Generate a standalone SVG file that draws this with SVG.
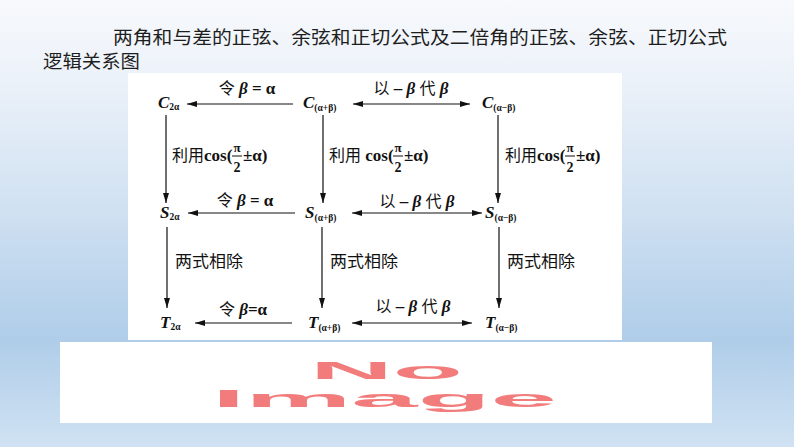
<svg xmlns="http://www.w3.org/2000/svg" width="794" height="447" viewBox="0 0 794 447">
<style>
.title{font-family:"Noto Sans CJK SC","Liberation Serif",sans-serif;font-size:18.5px;fill:#1e1e1e}
.n{font-family:"Liberation Serif",serif;font-weight:bold;font-style:italic;font-size:17px;fill:#111}
.sub{font-size:9.5px;font-style:normal}
.m{font-family:"Liberation Serif","Noto Sans CJK SC",serif;font-weight:bold;font-size:17px;fill:#111}
.h{font-size:17px}
.cj{font-family:"Noto Sans CJK SC",sans-serif;font-weight:normal;font-size:16px;fill:#111}
.cjh{font-family:"Noto Sans CJK SC",sans-serif;font-weight:normal;font-size:16px;fill:#111}
.it{font-style:italic}
.pi{font-size:13px}
.two{font-size:14px}
.ni{font-family:"Liberation Sans",sans-serif;font-weight:bold;font-size:24px;fill:#f27c7c}
.ln{stroke:#111;stroke-width:1.2;fill:none}
.bar{stroke:#111;stroke-width:1}
</style>
<defs>
<linearGradient id="bg" x1="0" y1="0" x2="0" y2="1">
<stop offset="0" stop-color="#f7f9fc"/>
<stop offset="0.15" stop-color="#eef3fa"/>
<stop offset="0.45" stop-color="#d2e2f2"/>
<stop offset="0.76" stop-color="#afcde9"/>
<stop offset="1" stop-color="#d0e2f3"/>
</linearGradient>
<marker id="ah" viewBox="0 0 10 6" refX="10" refY="3" markerWidth="10" markerHeight="6" markerUnits="userSpaceOnUse" orient="auto-start-reverse">
<path d="M0,0 L10,3 L0,6 Z" fill="#111"/>
</marker>
</defs>
<rect width="794" height="447" fill="url(#bg)"/>
<text class="title" x="113" y="44" textLength="614" lengthAdjust="spacingAndGlyphs">两角和与差的正弦、余弦和正切公式及二倍角的正弦、余弦、正切公式</text>
<text class="title" x="43" y="68" textLength="97" lengthAdjust="spacingAndGlyphs">逻辑关系图</text>
<rect x="128" y="73" width="494" height="267" fill="#fff"/>
<g id="connectors">
<line class="ln" x1="293" y1="104" x2="187" y2="104" marker-end="url(#ah)"/>
<line class="ln" x1="353" y1="104" x2="470" y2="104" marker-start="url(#ah)" marker-end="url(#ah)"/>
<line class="ln" x1="295" y1="213" x2="188" y2="213" marker-end="url(#ah)"/>
<line class="ln" x1="352" y1="213" x2="482" y2="213" marker-start="url(#ah)" marker-end="url(#ah)"/>
<line class="ln" x1="292" y1="323" x2="195" y2="323" marker-end="url(#ah)"/>
<line class="ln" x1="352" y1="323" x2="472" y2="323" marker-start="url(#ah)" marker-end="url(#ah)"/>
<line class="ln" x1="166" y1="115" x2="166" y2="203" marker-end="url(#ah)"/>
<line class="ln" x1="323" y1="115" x2="323" y2="203" marker-end="url(#ah)"/>
<line class="ln" x1="498" y1="115" x2="498" y2="203" marker-end="url(#ah)"/>
<line class="ln" x1="167" y1="227" x2="167" y2="308" marker-end="url(#ah)"/>
<line class="ln" x1="322" y1="227" x2="322" y2="308" marker-end="url(#ah)"/>
<line class="ln" x1="499" y1="227" x2="499" y2="308" marker-end="url(#ah)"/>
<text class="m h" x="247" y="94" text-anchor="middle"><tspan class="cjh">令</tspan> <tspan class="it">β</tspan> = α</text>
<text class="m h" x="411" y="94" text-anchor="middle"><tspan class="cjh">以</tspan> – <tspan class="it">β</tspan> <tspan class="cjh">代</tspan> <tspan class="it">β</tspan></text>
<text class="m h" x="245" y="206" text-anchor="middle"><tspan class="cjh">令</tspan> <tspan class="it">β</tspan> = α</text>
<text class="m h" x="417" y="207" text-anchor="middle"><tspan class="cjh">以</tspan> – <tspan class="it">β</tspan> <tspan class="cjh">代</tspan> <tspan class="it">β</tspan></text>
<text class="m h" x="243" y="315" text-anchor="middle"><tspan class="cjh">令</tspan> <tspan class="it">β</tspan>=α</text>
<text class="m h" x="413" y="312" text-anchor="middle"><tspan class="cjh">以</tspan> – <tspan class="it">β</tspan> <tspan class="cjh">代</tspan> <tspan class="it">β</tspan></text>
<g id="lbl-cos1">
<text class="m" x="172" y="161"><tspan class="cj">利用</tspan>cos(</text>
<text class="m pi" x="237" y="151.5" text-anchor="middle">π</text>
<line class="bar" x1="232" y1="156" x2="242" y2="156"/>
<text class="m two" x="237" y="172" text-anchor="middle">2</text>
<text class="m" x="243" y="161">±α)</text>
</g>
<g id="lbl-cos2">
<text class="m" x="329" y="161"><tspan class="cj">利用</tspan> cos(</text>
<text class="m pi" x="398" y="151.5" text-anchor="middle">π</text>
<line class="bar" x1="393" y1="156" x2="403" y2="156"/>
<text class="m two" x="398" y="172" text-anchor="middle">2</text>
<text class="m" x="404" y="161">±α)</text>
</g>
<g id="lbl-cos3">
<text class="m" x="505" y="161"><tspan class="cj">利用</tspan>cos(</text>
<text class="m pi" x="570" y="151.5" text-anchor="middle">π</text>
<line class="bar" x1="565" y1="156" x2="575" y2="156"/>
<text class="m two" x="570" y="172" text-anchor="middle">2</text>
<text class="m" x="576" y="161">±α)</text>
</g>
<text class="cj" x="175" y="267" font-size="16" textLength="68" lengthAdjust="spacingAndGlyphs">两式相除</text>
<text class="cj" x="330" y="267" font-size="16" textLength="68" lengthAdjust="spacingAndGlyphs">两式相除</text>
<text class="cj" x="507" y="267" font-size="16" textLength="68" lengthAdjust="spacingAndGlyphs">两式相除</text>
</g>
<g id="C2a"><text class="n" x="158" y="108">C<tspan class="sub" dy="2">2α</tspan></text></g>
<g id="Cab"><text class="n" x="303" y="108">C<tspan class="sub" dy="3">(α+β)</tspan></text></g>
<g id="Camb"><text class="n" x="482" y="108">C<tspan class="sub" dy="3">(α−β)</tspan></text></g>
<g id="S2a"><text class="n" x="160" y="218">S<tspan class="sub" dy="2">2α</tspan></text></g>
<g id="Sab"><text class="n" x="305" y="218">S<tspan class="sub" dy="3">(α+β)</tspan></text></g>
<g id="Samb"><text class="n" x="485" y="218">S<tspan class="sub" dy="3">(α−β)</tspan></text></g>
<g id="T2a"><text class="n" x="160" y="328">T<tspan class="sub" dy="2">2α</tspan></text></g>
<g id="Tab"><text class="n" x="308" y="328">T<tspan class="sub" dy="3">(α+β)</tspan></text></g>
<g id="Tamb"><text class="n" x="485" y="328">T<tspan class="sub" dy="3">(α−β)</tspan></text></g>
<rect x="60" y="342" width="652" height="81" fill="#fff"/>
<text class="ni" x="310" y="379" textLength="153" lengthAdjust="spacingAndGlyphs">No</text>
<text class="ni" x="212" y="407" textLength="345" lengthAdjust="spacingAndGlyphs">Image</text>
</svg>
